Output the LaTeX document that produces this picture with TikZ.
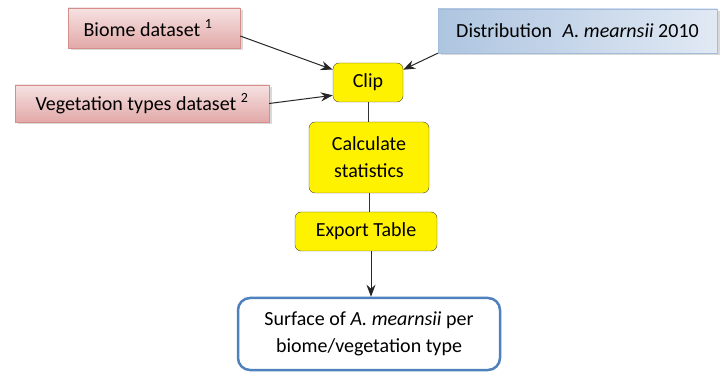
\documentclass[tikz,border=0pt]{standalone}
\usepackage{fontspec}
\setmainfont{Carlito}
\usepackage{tikz}
\usetikzlibrary{arrows.meta,shadows}
\usepackage{xcolor}
\definecolor{pinkbd}{HTML}{D58E8C}
\definecolor{pinklt}{HTML}{F6E2E2}
\definecolor{pinkdk}{HTML}{E2A9A8}
\definecolor{bluebd}{HTML}{A3BCDB}
\definecolor{bluelt}{HTML}{E1E9F4}
\definecolor{bluedk}{HTML}{AEC5E0}
\definecolor{outbd}{HTML}{4F81BD}
\tikzset{
  src/.style={draw=pinkbd, top color=pinklt, bottom color=pinkdk, align=center,
              inner sep=0pt, drop shadow={opacity=0.3, shadow xshift=2.5pt, shadow yshift=-2.5pt}},
  dist/.style={draw=bluebd, left color=bluedk, right color=bluelt, align=center,
               inner sep=0pt, drop shadow={opacity=0.3, shadow xshift=2.5pt, shadow yshift=-2.5pt}},
  proc/.style={draw=gray!55!black, rounded corners=6pt, fill=yellow, align=center,
               inner sep=0pt},
  result/.style={draw=outbd, line width=2.5pt, rounded corners=12pt, fill=white,
                 align=center, inner sep=0pt},
  arrow/.style={-{Stealth[length=12pt, width=9pt]}, line width=1pt, black!85},
  link/.style={line width=0.8pt, black!80},
}

\begin{document}
\begin{tikzpicture}[x=1pt, y=-1pt, font=\fontsize{20}{27}\selectfont]
  \useasboundingbox (0,0) rectangle (726,374);
  \node[src, minimum width=172pt, minimum height=40pt] (biome) at (154,28)
    {Biome dataset \textsuperscript{1}\hspace{0.6em}};
  \node[src, minimum width=254pt, minimum height=37pt] (veg) at (142,103.5)
    {Vegetation types dataset \textsuperscript{2}};
  \node[dist, minimum width=279pt, minimum height=44pt] (distr) at (577.5,31)
    {Distribution\hspace{0.3em} \textit{A. mearnsii} 2010};
  \node[proc, minimum width=70pt, minimum height=39pt] (clip) at (368,82.5) {Clip};
  \node[proc, minimum width=120pt, minimum height=71pt] (calc) at (369,157.5)
    {Calculate\\statistics};
  \node[proc, minimum width=142pt, minimum height=39pt] (export) at (366,231.5)
    {Export Table};
  \node[result, minimum width=262pt, minimum height=72pt] (surf) at (369,334)
    {Surface of \textit{A. mearnsii} per\\biome/vegetation type};

  \draw[arrow] ([yshift=-8pt]biome.east) -- (clip.160);
  \draw[arrow] (veg.east) -- (clip.200);
  \draw[arrow] (distr.south west) -- (clip.20);
  \draw[link] (clip.south) -- (clip.south |- calc.north);
  \draw[link] (calc.south) -- (calc.south |- export.north);
  \draw[arrow] (export.south -| 371,0) -- (surf.north -| 371,0);
\end{tikzpicture}
\end{document}
